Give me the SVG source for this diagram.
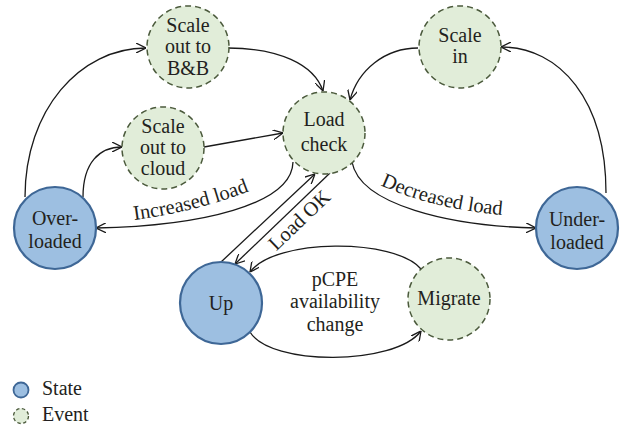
<svg xmlns="http://www.w3.org/2000/svg" width="627" height="430" viewBox="0 0 627 430">
<style>
.state{fill:#9dbfe1;stroke:#3e6796;stroke-width:2.2}
.event{fill:#e1edd9;stroke:#4b5a3c;stroke-width:1.5;stroke-dasharray:6 4}
text{font-family:"Liberation Serif",serif;font-size:20px;fill:#231f20;text-anchor:middle}
.lbl{font-size:20.5px}
.edge{fill:none;stroke:#1a1a1a;stroke-width:1.3;marker-end:url(#arr)}
.leg{text-anchor:start;font-size:20px}
</style>
<defs>
<marker id="arr" viewBox="0 0 10 10" refX="10" refY="5" markerWidth="10" markerHeight="10" markerUnits="userSpaceOnUse" orient="auto">
<path d="M0,0 L10,5 L0,10" fill="none" stroke="#1a1a1a" stroke-width="1.3"/>
</marker>
<path id="p-inc" d="M118 222 Q200 213 264 185"/>
<path id="p-dec" d="M370 180 Q428 210 514 216"/>
</defs>
<g id="connectors">
<path class="edge" d="M25 197 C25 110 80 48 146 48"/>
<path class="edge" d="M83 197 C83 162 100 147 122 147"/>
<path class="edge" d="M228 48 C278 48 314 64 323 91"/>
<path class="edge" d="M204 147 L283 133"/>
<path class="edge" d="M418 48 C385 48 358 70 350 100"/>
<path class="edge" d="M606 193 C606 100 560 47 501 47"/>
<path class="edge" d="M293 162 C292 205 200 226 96 228"/>
<path class="edge" d="M352 162 C360 205 450 226 536 228"/>
<path class="edge" d="M221 262 L315 174"/>
<path class="edge" d="M330 173 L235 264"/>
<path class="edge" d="M421 269 C395 238 275 238 250 272"/>
<path class="edge" d="M250 332 C270 366 395 366 421 331"/>
<text class="lbl"><textPath href="#p-inc" startOffset="50%">Increased load</textPath></text>
<text class="lbl"><textPath href="#p-dec" startOffset="50%">Decreased load</textPath></text>
<text class="lbl" transform="translate(304 225) rotate(-43.8)">Load OK</text>
<text x="335" y="286">pCPE</text>
<text x="335" y="308">availability</text>
<text x="335" y="331">change</text>
</g>
<g id="scale-bb">
<circle class="event" cx="188" cy="47" r="41"/>
<text x="188" y="32">Scale</text>
<text x="188" y="53">out to</text>
<text x="188" y="75">B&amp;B</text>
</g>
<g id="scale-cloud">
<circle class="event" cx="163" cy="148" r="41"/>
<text x="163" y="133">Scale</text>
<text x="163" y="154">out to</text>
<text x="163" y="175">cloud</text>
</g>
<g id="load-check">
<circle class="event" cx="324" cy="133" r="41"/>
<text x="324" y="126">Load</text>
<text x="324" y="151">check</text>
</g>
<g id="scale-in">
<circle class="event" cx="460" cy="47" r="41"/>
<text x="460" y="42">Scale</text>
<text x="460" y="63">in</text>
</g>
<g id="overloaded">
<circle class="state" cx="55" cy="228" r="41"/>
<text x="55" y="225">Over-</text>
<text x="55" y="248">loaded</text>
</g>
<g id="underloaded">
<circle class="state" cx="577" cy="228" r="41"/>
<text x="577" y="226">Under-</text>
<text x="577" y="249">loaded</text>
</g>
<g id="up">
<circle class="state" cx="221" cy="303" r="41"/>
<text x="221" y="310">Up</text>
</g>
<g id="migrate">
<circle class="event" cx="449" cy="299" r="41"/>
<text x="449" y="305">Migrate</text>
</g>
<g id="legend">
<circle class="state" cx="21" cy="390" r="7.5" style="stroke-width:1.8"/>
<text class="leg" x="42" y="395">State</text>
<circle class="event" cx="21" cy="416" r="7.5" style="stroke-dasharray:3.5 2.5;stroke-width:1.3"/>
<text class="leg" x="42" y="421">Event</text>
</g>
</svg>
